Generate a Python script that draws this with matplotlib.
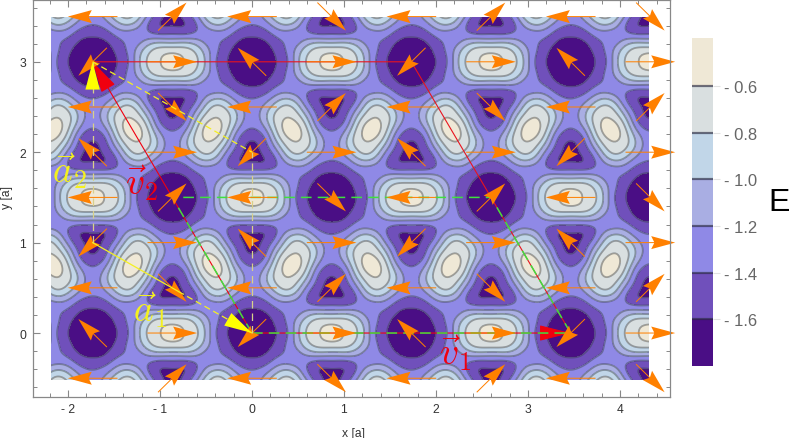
#=========================================================================
# spin texture on the energy landscape
#=========================================================================

import matplotlib
matplotlib.use( 'Agg' )
import matplotlib.pyplot as plt
from matplotlib.patches import Rectangle
import numpy as np

plt.rcParams['font.family'] = ['Liberation Sans', 'DejaVu Sans']
plt.rcParams['mathtext.fontset'] = 'cm'

#-------------------------------------------------------------------------
# Raw data
#-------------------------------------------------------------------------

grid_x = [ 0.0, 0.144, 0.289, 0.433, 0.577, 0.722, 0.866 ]
grid_y = [ 0.0, 0.15, 0.3, 0.45, 0.6, 0.75, 0.9, 1.05, 1.2, 1.35, 1.5 ]

energy = [
  [ -1.85, -1.75, -1.57, -1.27, -0.82, -0.62, -0.50 ],
  [ -1.75, -1.68, -1.50, -1.28, -0.97, -0.78, -0.76 ],
  [ -1.56, -1.50, -1.33, -1.30, -1.32, -1.38, -1.38 ],
  [ -1.35, -1.22, -0.95, -0.92, -1.28, -1.58, -1.64 ],
  [ -1.29, -1.05, -0.70, -0.64, -0.97, -1.44, -1.62 ],
  [ -1.42, -1.22, -0.72, -0.50, -0.72, -1.22, -1.42 ],
  [ -1.62, -1.44, -0.97, -0.64, -0.70, -1.05, -1.29 ],
  [ -1.64, -1.58, -1.28, -0.92, -0.95, -1.22, -1.35 ],
  [ -1.38, -1.38, -1.32, -1.30, -1.33, -1.50, -1.56 ],
  [ -0.76, -0.78, -0.97, -1.28, -1.50, -1.68, -1.75 ],
  [ -0.50, -0.62, -0.82, -1.27, -1.57, -1.75, -1.85 ],
]

# Contour levels and band colours, low to high

levels = [ -1.6, -1.4, -1.2, -1.0, -0.8, -0.6 ]
bands  = [ '#4a0e85', '#7050bb', '#8f89e6', '#a9aee3',
           '#c1d6e8', '#d9dfe0', '#efe8d6' ]

cbar_labels = [ '- 1.6', '- 1.4', '- 1.2', '- 1.0', '- 0.8', '- 0.6' ]

# Spins, rows from top to bottom

spin_x = [ -1.732, -0.866, 0.0, 0.866, 1.732, 2.598, 3.464, 4.33 ]
spin_y = [ 3.5, 3.0, 2.5, 2.0, 1.5, 1.0, 0.5, 0.0, -0.5 ]

spin_dir = [
  [ 'L',  'NE', 'L',  'SE', 'L',  'NE', 'L',  'SE' ],
  [ 'SW', 'R',  'NW', 'R',  'SW', 'R',  'NW', 'R'  ],
  [ 'L',  'SE', 'L',  'NE', 'L',  'SE', 'L',  'NE' ],
  [ 'NW', 'R',  'SW', 'R',  'NW', 'R',  'SW', 'R'  ],
  [ 'L',  'NE', 'L',  'SE', 'L',  'NE', 'L',  'SE' ],
  [ 'SW', 'R',  'NW', 'R',  'SW', 'R',  'NW', 'R'  ],
  [ 'L',  'SE', 'L',  'NE', 'L',  'SE', 'L',  'NE' ],
  [ 'NW', 'R',  'SW', 'R',  'NW', 'R',  'SW', 'R'  ],
  [ 'L',  'NE', 'L',  'SE', 'L',  'NE', 'L',  'SE' ],
]

spin_vec = {
  'L'  : ( -0.54,  0.0  ),
  'R'  : (  0.54,  0.0  ),
  'NE' : (  0.31,  0.31 ),
  'SE' : (  0.31, -0.31 ),
  'SW' : ( -0.31, -0.31 ),
  'NW' : ( -0.31,  0.31 ),
}

# Lattice vectors and cells

v1_start = ( 0.0, 0.0 )
v1_end   = ( 3.464, 0.0 )
v2_end   = ( -1.732, 3.0 )
red_x    = [ -1.732, 1.732, 3.464 ]
red_y    = [ 3.0, 3.0, 0.0 ]

green_x  = [ 0.0, 3.464, 2.598, -0.866, 0.0 ]
green_y  = [ 0.0, 0.0, 1.5, 1.5, 0.0 ]

a_origin = ( -1.732, 1.0 )
a1_end   = ( 0.0, 0.0 )
a2_end   = ( -1.732, 3.0 )
a_mid    = ( -0.8, 0.46 )

#-------------------------------------------------------------------------
# Create plot
#-------------------------------------------------------------------------

fig = plt.figure( figsize=(7.9, 4.39), dpi=100 )
ax  = fig.add_axes( [ 33/790, 1 - 397.5/439, 636.5/790, 397/439 ] )

ax.set_xlim( -2.38, 4.538 )
ax.set_ylim( -0.702, 3.689 )

# Repeat the quarter cell by its mirror lines

quarter = np.array( energy )
half    = np.vstack( [ quarter, quarter[-2:0:-1] ] )
cell    = np.hstack( [ half, half[:, -2:0:-1] ] )

# Smooth the periodic table for drawing the contours

fine = 8
ny, nx = cell.shape
spec = np.fft.fftshift( np.fft.fft2( cell ) )
pad_y = ny*(fine - 1)//2
pad_x = nx*(fine - 1)//2
spec = np.pad( spec, ( (pad_y, ny*(fine - 1) - pad_y), (pad_x, nx*(fine - 1) - pad_x) ) )
fine_cell = np.real( np.fft.ifft2( np.fft.ifftshift( spec ) ) ) * fine**2

step_x = grid_x[-1] / 6 / fine
step_y = grid_y[-1] / 10 / fine
ix = np.arange( -16*fine, 32*fine )
iy = np.arange( -5*fine, 26*fine )
X, Y = np.meshgrid( ix*step_x, iy*step_y )
Z = fine_cell[ np.ix_( iy % fine_cell.shape[0], ix % fine_cell.shape[1] ) ]

field_box = Rectangle( (-2.18, -0.52), 6.5, 4.02, transform=ax.transData )

filled = ax.contourf( X, Y, Z, levels=[-4.0] + levels + [1.0], colors=bands, zorder=1 )
filled.set_clip_path( field_box )
lines = ax.contour( X, Y, Z, levels=levels, colors='#3a4048', linestyles='solid',
                    linewidths=1.3, alpha=0.45, zorder=1.1 )
lines.set_clip_path( field_box )

# Red vectors

ax.plot( [ v2_end[0] ] + red_x[1:], [ v2_end[1] ] + red_y[1:],
         color='#e8141e', lw=0.8, zorder=1.5 )
for tip in [ v1_end, v2_end ]:
  ax.annotate( '', xy=tip, xytext=v1_start, zorder=1.6,
    arrowprops=dict( arrowstyle='-|>,head_length=2.0,head_width=0.5',
                     mutation_scale=10, color='#f0000f', lw=0.8,
                     shrinkA=0, shrinkB=0 ) )

# Green cell

ax.plot( green_x, green_y, color='#3fe03f', lw=1.1, dashes=(7, 4), zorder=1.7 )

# Spins

sx, sy = np.meshgrid( spin_x, spin_y )
su = np.array( [ [ spin_vec[d][0] for d in row ] for row in spin_dir ] )
sv = np.array( [ [ spin_vec[d][1] for d in row ] for row in spin_dir ] )
ax.quiver( sx, sy, su, sv, angles='xy', scale_units='xy', scale=1, pivot='mid',
           units='dots', width=1.0, headwidth=13, headlength=24,
           headaxislength=21, color='#ff8000', clip_on=False, zorder=2 )

# Yellow vectors

pale = '#d8d08a'
ax.plot( [ a_origin[0], a2_end[0] ], [ a_origin[1], a2_end[1] ], color=pale,
         lw=0.9, dashes=(6, 4), zorder=2.1 )
ax.plot( [ 0.0, 0.0 ], [ 0.0, 2.0 ], color=pale, lw=0.9, dashes=(6, 4), zorder=2.1 )
ax.plot( [ a2_end[0], 0.0 ], [ a2_end[1], 2.0 ], color='#f4f020', lw=0.9,
         dashes=(5, 3), zorder=2.1 )
ax.plot( [ a_origin[0], a_mid[0] ], [ a_origin[1], a_mid[1] ], color='#f4f020',
         lw=0.9, zorder=2.1 )
ax.plot( [ a_mid[0], a1_end[0] ], [ a_mid[1], a1_end[1] ], color='#f4f020',
         lw=0.9, dashes=(5, 3), zorder=2.1 )
for tip in [ a1_end, a2_end ]:
  ax.annotate( '', xy=tip, xytext=a_origin, zorder=2.2,
    arrowprops=dict( arrowstyle='-|>,head_length=2.0,head_width=0.52',
                     mutation_scale=10, color='#ffff00', lw=0.0,
                     shrinkA=0, shrinkB=0 ) )

# Vector labels

ax.text( -2.17, 1.67, r'$\vec{a}_2$', color='#f4f020', fontsize=27, zorder=3 )
ax.text( -1.29, 0.14, r'$\vec{a}_1$', color='#f4f020', fontsize=27, zorder=3 )
ax.text( -1.38, 1.54, r'$\vec{v}_2$', color='#f0000f', fontsize=27, zorder=3 )
ax.text( 2.03, -0.34, r'$\vec{v}_1$', color='#f0000f', fontsize=27, zorder=3 )

# Axes formatting

ax.set_xticks( [ -2, -1, 0, 1, 2, 3, 4 ] )
ax.set_xticklabels( [ '- 2', '- 1', '0', '1', '2', '3', '4' ] )
ax.set_yticks( [ 0, 1, 2, 3 ] )
ax.set_xticks( np.arange( -2.2, 4.5, 0.2 ), minor=True )
ax.set_yticks( np.arange( -0.6, 3.7, 0.2 ), minor=True )
ax.tick_params( which='major', direction='in', length=5, width=0.8, color='#888888',
                top=True, right=True, labelsize=8.7, labelcolor='#333333', pad=5 )
ax.tick_params( which='minor', direction='in', length=3, width=0.7, color='#888888',
                top=True, right=True )
for spine in ax.spines.values():
  spine.set_color( '#888888' )
  spine.set_linewidth( 0.9 )

fig.text( 353/790, 1 - 434/439, 'x [a]', ha='center', va='center',
          fontsize=8.7, color='#333333' )
fig.text( 7/790, 1 - 198/439, 'y [a]', ha='center', va='center', rotation=90,
          fontsize=8.7, color='#333333' )

#-------------------------------------------------------------------------
# Colour bar
#-------------------------------------------------------------------------

cax = fig.add_axes( [ 692/790, 1 - 367/439, 21/790, 328/439 ] )
edges = [ -1.80 ] + levels + [ -0.395 ]
for low, high, band in zip( edges[:-1], edges[1:], bands ):
  cax.bar( 0, high - low, width=1.0, bottom=low, color=band, edgecolor='none' )
cax.hlines( levels, -0.5, 0.5, colors='#2a2a40', lw=1.6, alpha=0.65 )
cax.set_xlim( -0.5, 0.5 )
cax.set_ylim( edges[0], edges[-1] )
cax.set_xticks( [] )
cax.yaxis.tick_right()
cax.set_yticks( levels )
cax.set_yticklabels( cbar_labels )
cax.tick_params( axis='y', length=5, width=0.8, color='#e2e2e2', labelsize=12,
                 labelcolor='#666666', pad=3 )
for spine in cax.spines.values():
  spine.set_visible( False )

fig.text( 768/790, 1 - 203/439, 'E', ha='left', va='center', fontsize=23, color='black' )

fig.savefig( 'out.png', dpi=100 )
